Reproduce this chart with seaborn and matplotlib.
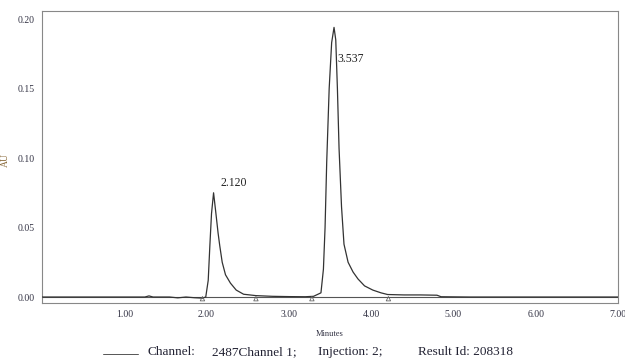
import matplotlib
matplotlib.use("Agg")
import matplotlib.pyplot as plt
import seaborn as sns
import pandas as pd
from matplotlib.ticker import MultipleLocator, FormatStrFormatter
from matplotlib.lines import Line2D

# trace (minutes, AU)
times = [0.00, 0.50, 1.00, 1.25, 1.30, 1.35, 1.45, 1.55, 1.65, 1.75, 1.85, 1.95,
         1.99, 2.02, 2.04, 2.06, 2.085, 2.11, 2.14, 2.16, 2.19, 2.23, 2.29, 2.36,
         2.45, 2.60, 2.80, 3.00, 3.20, 3.30, 3.39, 3.42, 3.44, 3.46, 3.49, 3.52,
         3.549, 3.57, 3.59, 3.61, 3.64, 3.67, 3.72, 3.78, 3.84, 3.92, 4.02, 4.12,
         4.20, 4.40, 4.60, 4.80, 4.85, 5.20, 6.00, 7.00]
absorb = [0.0, 0.0, 0.0, 0.0, 0.0008, 0.0, 0.0, 0.0, -0.0006, 0.0, -0.0005, -0.0008,
          0.0, 0.012, 0.037, 0.060, 0.075, 0.062, 0.046, 0.037, 0.025, 0.016, 0.010, 0.005,
          0.002, 0.001, 0.0005, 0.0003, 0.0002, 0.0005, 0.003, 0.020, 0.050, 0.097, 0.150, 0.183,
          0.194, 0.185, 0.150, 0.107, 0.065, 0.038, 0.025, 0.018, 0.013, 0.008, 0.005, 0.003,
          0.0018, 0.0015, 0.0015, 0.0013, 0.0002, 0.0, 0.0, 0.0]

peak_rt = [2.085, 3.549]
peak_h = [0.075, 0.194]
peak_labels = ["2.120", "3.537"]
bounds = [1.95, 2.60, 3.28, 4.21]
footer = ["Channel:", "2487Channel 1;", "Injection: 2;", "Result Id: 208318"]
footer_x = [147, 212, 318, 418]

df = pd.DataFrame({"Minutes": times, "AU": absorb})

sns.set_style("white")
plt.rcParams["font.family"] = ["Liberation Serif", "DejaVu Serif"]

fig = plt.figure(figsize=(6.25, 3.64), dpi=100)
ax = fig.add_axes([0.0672, 0.1676, 0.9216, 0.8022])

ax.axhline(0, color="#555555", lw=0.8, zorder=1)
sns.lineplot(data=df, x="Minutes", y="AU", ax=ax, color="#333333", lw=0.9,
             sort=False, estimator=None, zorder=3)
ax.scatter(bounds, [-0.0012] * len(bounds), marker="^", s=10, facecolors="none",
           edgecolors="#666666", linewidths=0.6, zorder=4)

ax.text(peak_rt[0] + 0.08, peak_h[0] + 0.005, peak_labels[0], fontsize=8.5, color="#222222")
ax.text(peak_rt[1] + 0.04, peak_h[1] - 0.025, peak_labels[1], fontsize=8.5, color="#222222")

ax.set_xlim(0, 7)
ax.set_ylim(-0.0043, 0.2058)
ax.xaxis.set_minor_locator(MultipleLocator(0.2))
ax.yaxis.set_major_locator(MultipleLocator(0.05))
ax.yaxis.set_minor_locator(MultipleLocator(0.01))
ax.xaxis.set_major_formatter(FormatStrFormatter("%.2f"))
ax.yaxis.set_major_formatter(FormatStrFormatter("%.2f"))
ax.set_xticks([1, 2, 3, 4, 5, 6, 7])
ax.tick_params(axis="both", which="major", direction="out", length=4, width=0.7,
               color="#666666", labelsize=7, labelcolor="#333344", pad=1)
ax.tick_params(axis="both", which="minor", direction="out", length=2.5, width=0.6,
               color="#666666")
for s in ax.spines.values():
    s.set_color("#888888")
    s.set_linewidth(0.8)

ax.set_xlabel("Minutes", fontsize=6, color="#333344", labelpad=8)
ax.set_ylabel("AU", fontsize=7, color="#8a6a3a", labelpad=1)
ax.yaxis.set_label_coords(-0.055, 0.49)

fig.add_artist(Line2D([103 / 625, 138 / 625], [1 - 354 / 364, 1 - 354 / 364],
                      color="#555555", lw=0.7))
for txt, px in zip(footer, footer_x):
    fig.text(px / 625, 1 - 352 / 364, txt, fontsize=9.5, color="#222233", va="center")

fig.savefig("out.png", dpi=100)
